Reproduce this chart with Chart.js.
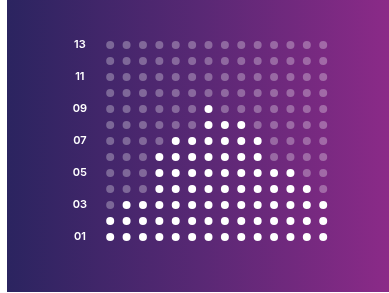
<!DOCTYPE html>
<html>
<head>
<meta charset="utf-8">
<script src="https://cdn.jsdelivr.net/npm/chart.js@4.4.0/dist/chart.umd.min.js"></script>
<style>
html,body{margin:0;padding:0;background:#fff;}
#wrap{width:389px;height:293px;position:relative;}
</style>
</head>
<body>
<div id="wrap"><canvas id="c" width="389" height="293"></canvas></div>
<script>
const columns = [1,2,3,4,5,6,7,8,9,10,11,12,13,14];
const heights = [2,3,3,6,7,7,9,8,8,7,5,5,4,3];
const rowCount = 13;
const yTickLabels = ['01','','03','','05','','07','','09','','11','','13'];

const points = [];
const colors = [];
columns.forEach((c, i) => {
  for (let r = 1; r <= rowCount; r++) {
    points.push({x: c, y: r});
    colors.push(r <= heights[i] ? '#ffffff' : 'rgba(255,255,255,0.3)');
  }
});

const bgPlugin = {
  id: 'bg',
  beforeDraw(chart) {
    const ctx = chart.ctx;
    const g = ctx.createLinearGradient(7, 0, 389, 0);
    g.addColorStop(0, '#2b2460');
    g.addColorStop(0.5, '#582874');
    g.addColorStop(1, '#8b2a88');
    ctx.save();
    ctx.fillStyle = g;
    ctx.fillRect(7, 0, 382, 292);
    ctx.restore();
  }
};

new Chart(document.getElementById('c'), {
  type: 'scatter',
  data: {
    datasets: [{
      data: points,
      pointBackgroundColor: colors,
      pointBorderWidth: 0,
      pointRadius: 4,
      pointHoverRadius: 4
    }]
  },
  options: {
    responsive: false,
    animation: false,
    events: [],
    layout: {padding: {left: 42, right: 57.6, top: 37, bottom: 48}},
    plugins: {legend: {display: false}, tooltip: {enabled: false}},
    scales: {
      x: {type: 'linear', min: 0.5, max: 14.5, display: false},
      y: {
        type: 'linear', min: 0.5, max: 13.5,
        afterFit(s) { s.width = 60; },
        afterBuildTicks(s) {
          s.ticks = yTickLabels.map((l, i) => ({value: i + 1}));
        },
        grid: {display: false, drawTicks: false},
        border: {display: false},
        ticks: {
          color: '#ffffff',
          padding: 15,
          crossAlign: 'center',
          autoSkip: false,
          font: {family: 'Inter', size: 11, weight: '600'},
          callback: (v) => yTickLabels[Math.round(v) - 1] || ''
        }
      }
    }
  },
  plugins: [bgPlugin]
});
</script>
</body>
</html>
